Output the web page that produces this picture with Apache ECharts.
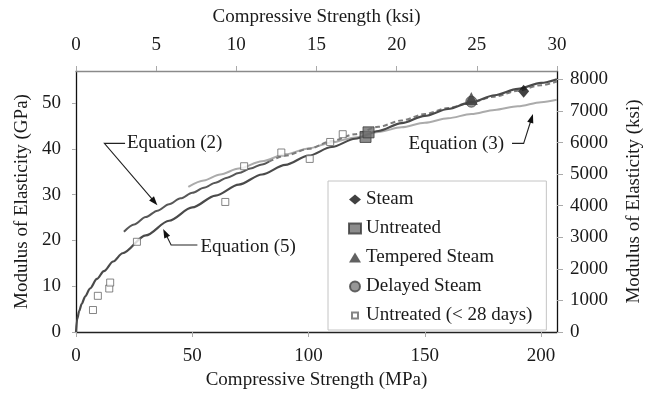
<!DOCTYPE html>
<html>
<head>
<meta charset="utf-8">
<title>Modulus of Elasticity vs Compressive Strength</title>
<script src="https://cdn.jsdelivr.net/npm/echarts@6/dist/echarts.min.js"></script>
<style>
	html, body { margin: 0; padding: 0; background: #fff; }
	#chart { width: 652px; height: 398px; }
</style>
</head>
<body>
<div id="chart"></div>
<script>
	// units: MPa / GPa on the main axes, ksi on the top and right axes
	var MPA_PER_KSI = 6.894757;
	var X_MAX = 30 * MPA_PER_KSI; // 30 ksi
	var Y_MAX = 57; // GPa
	var KSI_MAX = Y_MAX / MPA_PER_KSI * 1000;

	// Equation (5), from the origin
	var eq5X = [0, 0.5, 1.4, 2.4, 4, 6, 9, 12, 16, 20, 30, 40, 50, 60, 70, 80, 90, 100, 110, 120, 130, 140, 150, 160, 170, 180, 190, 200, 206.8];
	var eq5Y = [0, 2.8, 4.6, 6.1, 7.8, 9.5, 11.6, 13.3, 15.4, 17.2, 21.1, 24.3, 27.2, 29.8, 32.2, 34.4, 36.5, 38.5, 40.4, 42.2, 43.9, 45.6, 47.2, 48.7, 50.2, 51.7, 53.1, 54.4, 55.2];

	// Equation (2), solid part and dashed extension
	var eq2X = [20.6, 25, 30, 35, 40, 45, 50, 55, 60, 65, 70, 75, 80, 83];
	var eq2Y = [21.9, 23.5, 25.1, 26.5, 27.9, 29.2, 30.4, 31.5, 32.6, 33.7, 34.7, 35.7, 36.6, 37.2];
	var eq2extX = [83, 90, 100, 110, 120, 130, 140, 150, 160, 170, 180, 190, 200, 206.8];
	var eq2extY = [37.2, 38.5, 40.0, 41.7, 43.2, 44.8, 46.2, 47.6, 48.9, 50.2, 51.4, 52.7, 53.9, 54.7];

	// Equation (3)
	var eq3X = [48.3, 55, 62, 70, 80, 90, 100, 110, 120, 130, 140, 150, 160, 170, 180, 190, 200, 206.8];
	var eq3Y = [31.7, 33.1, 34.4, 35.7, 37.3, 38.8, 40.1, 41.4, 42.5, 43.7, 44.7, 45.7, 46.7, 47.6, 48.5, 49.3, 50.2, 50.7];

	// test results
	var steamX = [192.5];
	var steamY = [52.6];
	var untreatedX = [124.5, 125.8];
	var untreatedY = [42.6, 43.6];
	var temperedX = [170];
	var temperedY = [51.0];
	var delayedX = [170];
	var delayedY = [50.3];
	var youngX = [7.3, 9.4, 14.3, 14.7, 26.2, 64.2, 72.3, 88.3, 100.5, 109.3, 114.7];
	var youngY = [4.8, 7.9, 9.5, 10.8, 19.7, 28.4, 36.2, 39.2, 37.8, 41.5, 43.2];

	// labels with leader lines (data coords: text anchor, then leader from text to arrow tip)
	var noteText = ['Equation (2)', 'Equation (5)', 'Equation (3)'];
	var noteAt = [[21.9, 41.2], [53.5, 18.6], [143.0, 41.1]];
	var noteLeader = [
		[[21.1, 41.2], [12.2, 41.2], [35.0, 27.7]],
		[[52.2, 19.0], [40.9, 19.0], [37.5, 22.5]],
		[[187.5, 41.2], [192.5, 41.2], [196.5, 47.6]]
	];

	var FONT = 'Liberation Serif';
	var INK = '#1a1a1a';

	function pts(xs, ys) {
		return xs.map(function(x, i) { return [x, ys[i]]; });
	}

	function lineSeries(name, xs, ys, color, width, type) {
		return {
			name: name,
			type: 'line',
			data: pts(xs, ys),
			showSymbol: false,
			symbol: 'none',
			smooth: 0.3,
			smoothMonotone: 'x',
			silent: true,
			z: 2,
			lineStyle: { color: color, width: width, type: type || 'solid' }
		};
	}

	function dotSeries(name, xs, ys, symbol, size, style) {
		return {
			name: name,
			type: 'scatter',
			data: pts(xs, ys),
			symbol: symbol,
			symbolSize: size,
			z: 5,
			itemStyle: style
		};
	}

	var axisText = { fontFamily: FONT, fontSize: 19, color: INK };

	var myChart = echarts.init(document.getElementById('chart'));

	var option = {
		animation: false,
		backgroundColor: '#fff',
		textStyle: { fontFamily: FONT },
		grid: { left: 76, right: 85, top: 71, bottom: 66, containLabel: false },
		legend: {
			orient: 'vertical',
			left: 328,
			top: 181,
			padding: [9, 14, 5, 20],
			itemGap: 10,
			itemWidth: 12,
			itemHeight: 10,
			backgroundColor: '#fff',
			borderColor: '#c4c4c4',
			borderWidth: 1,
			textStyle: { fontFamily: FONT, fontSize: 19, color: INK, lineHeight: 19 },
			data: [
				{ name: 'Steam', icon: 'diamond' },
				{ name: 'Untreated', icon: 'rect' },
				{ name: 'Tempered Steam', icon: 'triangle' },
				{ name: 'Delayed Steam', icon: 'circle' },
				{ name: 'Untreated (< 28 days)', icon: 'path://M0,0M10,10M2,2h6v6h-6z' }
			]
		},
		xAxis: [{
			type: 'value',
			position: 'bottom',
			min: 0,
			max: X_MAX,
			interval: 50,
			name: 'Compressive Strength (MPa)',
			nameLocation: 'middle',
			nameGap: 39,
			nameTextStyle: axisText,
			axisLine: { onZero: false, lineStyle: { color: '#222', width: 1.3 } },
			axisTick: { length: 5, lineStyle: { color: '#aaa' } },
			axisLabel: Object.assign({ margin: 15, showMaxLabel: false }, axisText),
			splitLine: { show: false }
		}, {
			type: 'value',
			position: 'top',
			min: 0,
			max: 30,
			interval: 5,
			name: 'Compressive Strength (ksi)',
			nameLocation: 'middle',
			nameGap: 44,
			nameTextStyle: axisText,
			axisLine: { onZero: false, lineStyle: { color: '#8a8a8a', width: 1.3 } },
			axisTick: { length: 5, lineStyle: { color: '#aaa' } },
			axisLabel: Object.assign({ margin: 16 }, axisText),
			splitLine: { show: false }
		}],
		yAxis: [{
			type: 'value',
			position: 'left',
			min: 0,
			max: Y_MAX,
			interval: 10,
			name: 'Modulus of Elasticity (GPa)',
			nameLocation: 'middle',
			nameGap: 44,
			nameTextStyle: axisText,
			axisLine: { show: true, onZero: false, lineStyle: { color: '#111', width: 1.3 } },
			axisTick: { show: true, length: 4, lineStyle: { color: '#aaa' } },
			axisLabel: Object.assign({ margin: 15, showMaxLabel: false }, axisText),
			splitLine: { show: false }
		}, {
			type: 'value',
			position: 'right',
			min: 0,
			max: KSI_MAX,
			interval: 1000,
			name: 'Modulus of Elasticity (ksi)',
			nameLocation: 'middle',
			nameRotate: 90,
			nameGap: 68,
			nameTextStyle: axisText,
			axisLine: { show: true, onZero: false, lineStyle: { color: '#111', width: 1.3 } },
			axisTick: { show: true, length: 6, lineStyle: { color: '#aaa' } },
			axisLabel: Object.assign({
				margin: 13,
				showMaxLabel: false,
				formatter: function(v) { return String(v); }
			}, axisText),
			splitLine: { show: false }
		}],
		series: [
			lineSeries('Equation (3)', eq3X, eq3Y, '#ababab', 2),
			lineSeries('Equation (2) ext', eq2extX, eq2extY, '#7c7c7c', 2, [5, 3]),
			lineSeries('Equation (2)', eq2X, eq2Y, '#575757', 2),
			lineSeries('Equation (5)', eq5X, eq5Y, '#4a4a4a', 2.2),
			dotSeries('Untreated (< 28 days)', youngX, youngY, 'rect', 7,
				{ color: '#fff', borderColor: '#666', borderWidth: 1 }),
			dotSeries('Untreated', untreatedX, untreatedY, 'rect', 11,
				{ color: '#6f6f6f', borderColor: '#3a3a3a', borderWidth: 1 }),
			dotSeries('Delayed Steam', delayedX, delayedY, 'circle', 11,
				{ color: '#7d7d7d', borderColor: '#444', borderWidth: 1 }),
			dotSeries('Tempered Steam', temperedX, temperedY, 'triangle', 13,
				{ color: '#3a3a3a' }),
			dotSeries('Steam', steamX, steamY, 'diamond', [11, 13],
				{ color: '#111' })
		]
	};

	myChart.setOption(option);

	// leader lines + arrow heads for the equation labels
	function toPx(p) {
		return myChart.convertToPixel({ xAxisIndex: 0, yAxisIndex: 0 }, p);
	}

	var graphics = [];
	noteText.forEach(function(txt, i) {
		var at = toPx(noteAt[i]);
		graphics.push({
			type: 'text',
			silent: true,
			z: 10,
			style: {
				text: txt,
				x: at[0],
				y: at[1],
				fill: INK,
				font: '19px "' + FONT + '"',
				align: 'left',
				textAlign: 'left',
				verticalAlign: 'middle',
				textVerticalAlign: 'middle'
			}
		});
		var path = noteLeader[i].map(toPx);
		var tip = path[path.length - 1];
		var prev = path[path.length - 2];
		var dx = tip[0] - prev[0], dy = tip[1] - prev[1];
		var len = Math.sqrt(dx * dx + dy * dy);
		dx /= len; dy /= len;
		var bx = tip[0] - dx * 9, by = tip[1] - dy * 9;
		graphics.push({
			type: 'polyline',
			silent: true,
			z: 10,
			shape: { points: path.slice(0, -1).concat([[bx + dx * 2, by + dy * 2]]) },
			style: { stroke: '#222', lineWidth: 1.1, fill: null }
		});
		graphics.push({
			type: 'polygon',
			silent: true,
			z: 10,
			shape: { points: [tip, [bx - dy * 3.2, by + dx * 3.2], [bx + dy * 3.2, by - dx * 3.2]] },
			style: { fill: '#111', stroke: null }
		});
	});

	myChart.setOption({ graphic: graphics });

	window.addEventListener('resize', function() {
		myChart.resize();
	});
</script>
</body>
</html>
